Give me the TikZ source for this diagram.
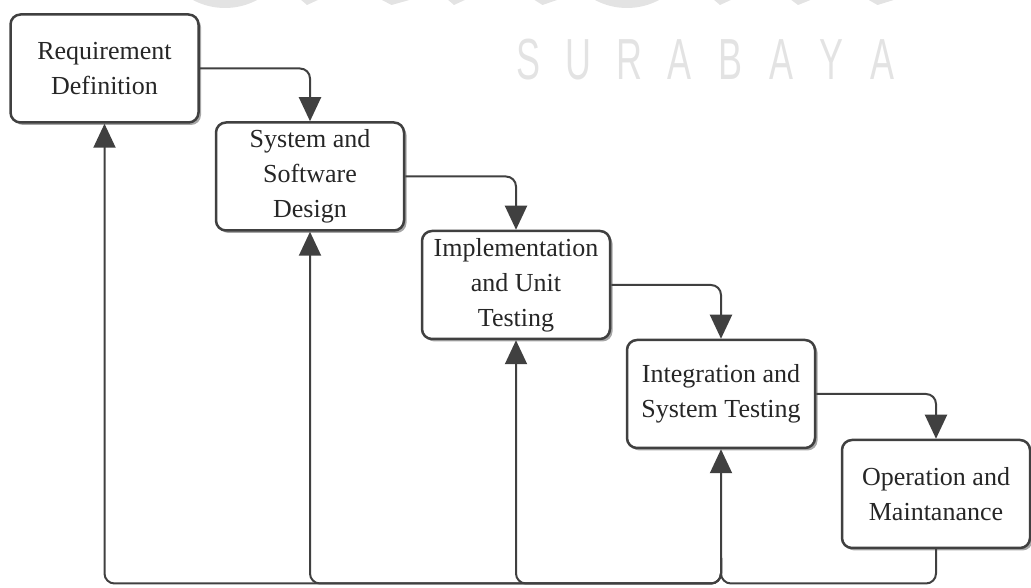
\documentclass[tikz,border=0pt]{standalone}
\usepackage{fontspec}
\setmainfont{Liberation Serif}
\newfontfamily\markfont{Liberation Sans}
\usetikzlibrary{arrows.meta,shadows}
\definecolor{linegray}{HTML}{404040}
\definecolor{textgray}{HTML}{262626}
\definecolor{markgray}{HTML}{E3E3E3}
\tikzset{
  phase/.style={draw=linegray, line width=2.5pt, rounded corners=10pt, fill=white,
    minimum width=188pt, minimum height=108pt, inner sep=2pt, align=center,
    text=textgray, font=\fontsize{26}{35}\selectfont,
    drop shadow={shadow xshift=2.5pt, shadow yshift=-2.5pt, fill=black, opacity=0.35}},
  flow/.style={draw=linegray, line width=2pt, rounded corners=10pt,
    -{Triangle[length=24pt,width=22pt]}},
  flowline/.style={draw=linegray, line width=2pt, rounded corners=10pt},
}

\begin{document}
\begin{tikzpicture}[x=1pt,y=1pt]
    \useasboundingbox (0,0) rectangle (1031,588);

    % watermark at the top
    \begin{scope}
      \clip (0,0) rectangle (1031,588);
      \fill[markgray] (225,648) circle (68);
      \fill[markgray] (627,648) circle (68);
      \foreach \a/\b in {300/320,380/413,447/467,533/560,713/733,790/813,867/897}
        \fill[markgray] (\a,589) -- (\b,589) -- ({\a+0.35*(\b-\a)},583) -- cycle;
    \end{scope}
    \foreach \c [count=\i from 0] in {S,U,R,A,B,A,Y,A}
      \node[anchor=base, text=markgray, font=\markfont\fontsize{58}{58}\selectfont,
            xscale=0.62, transform shape, inner sep=0pt] at ({528+50.6*\i},508) {\c};

    % phases
    \node[phase] (req)   at (104.5,519.5) {Requirement\\Definition};
    \node[phase] (sys)   at (310,411.5)   {System and\\Software\\Design};
    \node[phase] (impl)  at (516,303)     {Implementation\\and Unit\\Testing};
    \node[phase] (integ) at (721,194)     {Integration and\\System Testing};
    \node[phase] (oper)  at (936,94)      {Operation and\\Maintanance};

    % forward flow
    \draw[flow] (req.east) -| (sys.north);
    \draw[flow] (sys.east) -| (impl.north);
    \draw[flow] (impl.east) -| (integ.north);
    \draw[flow] (integ.east) -| (oper.north);

    % feedback along the bottom
    \coordinate (fb) at (integ.south |- 0,4.5);
    \coordinate (fj) at (integ.south |- 0,30);
    \draw[flow] (oper.south) |- (fb) -- (integ.south);
    \foreach \n in {req,sys,impl}
      \draw[flow] (fj) -- (fb) -| (\n.south);
\end{tikzpicture}
\end{document}
